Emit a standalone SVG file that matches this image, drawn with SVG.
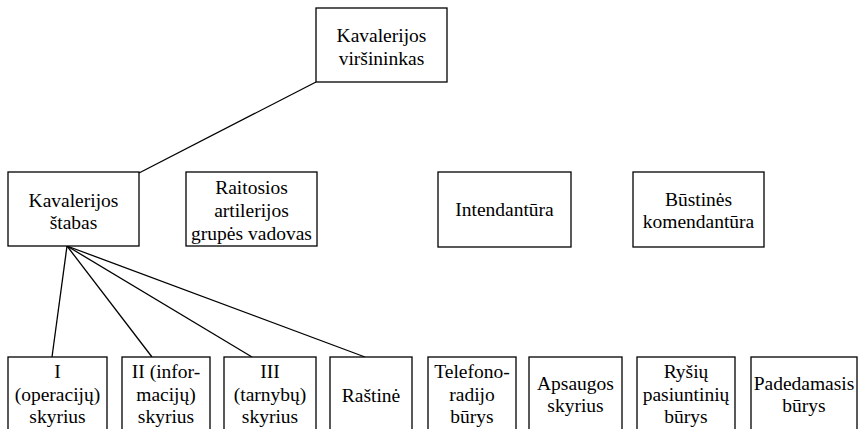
<svg xmlns="http://www.w3.org/2000/svg" width="861" height="429" viewBox="0 0 861 429">
<style>
rect{fill:#fff;stroke:#000;stroke-width:1.3}
text{text-anchor:middle;fill:#000}
.c line{stroke:#000;stroke-width:1.3}
</style>
<rect x="0" y="0" width="861" height="429" style="stroke:none"/>
<g class="c" id="connectors">
<line x1="316" y1="82" x2="139" y2="173"/>
<line x1="67" y1="246" x2="52" y2="357"/>
<line x1="67" y1="246" x2="152" y2="357"/>
<line x1="67" y1="246" x2="252" y2="357"/>
<line x1="67" y1="246" x2="365" y2="357"/>
</g>
<g font-family="Liberation Serif" font-size="19.5">
<g id="n-virsininkas"><rect x="316" y="8" width="131" height="74"/><text x="381.5" y="42">Kavalerijos</text><text x="381.5" y="65">viršininkas</text></g>
<g id="n-stabas"><rect x="8" y="172" width="131" height="74"/><text x="73.5" y="207">Kavalerijos</text><text x="73.5" y="229">štabas</text></g>
<g id="n-raitosios"><rect x="186" y="172" width="131" height="74"/><text x="251.5" y="194">Raitosios</text><text x="251.5" y="217">artilerijos</text><text x="251.5" y="240">grupės vadovas</text></g>
<g id="n-intendantura"><rect x="438" y="172" width="133" height="75"/><text x="504.5" y="216">Intendantūra</text></g>
<g id="n-bustines"><rect x="633" y="172" width="131" height="75"/><text x="698.5" y="206">Būstinės</text><text x="698.5" y="228">komendantūra</text></g>
<g id="n-i"><rect x="8" y="357" width="99" height="90"/><text x="57.5" y="378">I</text><text x="57.5" y="401">(operacijų)</text><text x="57.5" y="423">skyrius</text></g>
<g id="n-ii"><rect x="122" y="357" width="88" height="90"/><text x="166" y="378">II (infor-</text><text x="166" y="401">macijų)</text><text x="166" y="423">skyrius</text></g>
<g id="n-iii"><rect x="224" y="357" width="92" height="90"/><text x="270" y="378">III</text><text x="270" y="401">(tarnybų)</text><text x="270" y="423">skyrius</text></g>
<g id="n-rastine"><rect x="330" y="357" width="82" height="90"/><text x="371" y="402">Raštinė</text></g>
<g id="n-telefono"><rect x="428" y="357" width="88" height="90"/><text x="472" y="378">Telefono-</text><text x="472" y="401">radijo</text><text x="472" y="423">būrys</text></g>
<g id="n-apsaugos"><rect x="529" y="357" width="93" height="90"/><text x="575.5" y="390">Apsaugos</text><text x="575.5" y="412">skyrius</text></g>
<g id="n-rysiu"><rect x="637" y="357" width="98" height="90"/><text x="686" y="378">Ryšių</text><text x="686" y="401">pasiuntinių</text><text x="686" y="423">būrys</text></g>
<g id="n-padedamasis"><rect x="751" y="357" width="106" height="90"/><text x="804" y="390">Padedamasis</text><text x="804" y="412">būrys</text></g>
</g>
</svg>
